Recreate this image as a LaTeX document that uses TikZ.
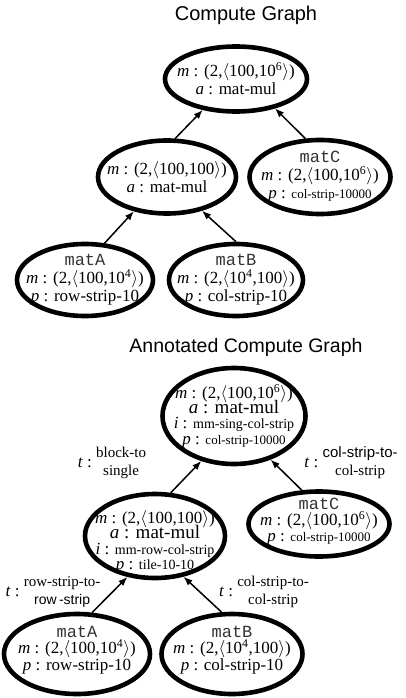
\documentclass[tikz,border=0pt]{standalone}
\usepackage{fontspec}
\setmainfont{Liberation Serif}
\setsansfont{Liberation Sans}
\setmonofont{Liberation Mono}
\usetikzlibrary{shapes.geometric,arrows.meta}

\setlength{\lineskiplimit}{-100pt}
\newcommand{\mshape}[1]{(2,$\langle$#1$\rangle$)}
\newcommand{\tinytxt}[1]{{\fontsize{13}{14}\selectfont #1}}
\newcommand{\smalltxt}[1]{{\fontsize{14}{15}\selectfont #1}}
\newcommand{\notefont}{\fontsize{15}{16}\selectfont}
\newcommand{\tpair}[2]{\textit{t} :\ {\lineskiplimit=0pt
  \begin{tabular}{@{}c@{}}#1\\#2\end{tabular}}}

\begin{document}
\begin{tikzpicture}[
    x=1pt, y=-1pt,
    every node/.style={font=\fontsize{17}{18}\selectfont},
    op/.style={draw, ellipse, line width=4.6pt, inner sep=0pt},
    txt/.style={align=center, font=\fontsize{17}{#1}\selectfont},
    txt/.default=18,
    title/.style={font=\sffamily\fontsize{20}{22}\selectfont},
    edge/.style={-{Latex[length=9pt,width=7pt]}, line width=1.5pt}
]
\useasboundingbox (0,0) rectangle (406,698);

% Compute graph
\node[title] (cg-title) at (246,15) {Compute Graph};

\node[op, minimum width=142pt, minimum height=65pt,
  label={[txt]center:{\textit{m} : \mshape{100,10\textsuperscript{6}}\\
  \textit{a} : mat-mul}}] (cg-out) at (236,79) {};
\node[op, minimum width=138pt, minimum height=73pt,
  label={[txt]center:{\textit{m} : \mshape{100,100}\\
  \textit{a} : mat-mul}}] (cg-ab) at (167,177) {};
\node[op, minimum width=141pt, minimum height=74pt,
  label={[txt]center:{{\ttfamily\color{black!80}matC}\\
  \textit{m} : \mshape{100,10\textsuperscript{6}}\\
  \textit{p} : \tinytxt{col-strip-10000}}}] (cg-c) at (320,177) {};
\node[op, minimum width=136pt, minimum height=72pt,
  label={[txt]center:{{\ttfamily\color{black!80}matA}\\
  \textit{m} : \mshape{100,10\textsuperscript{4}}\\
  \textit{p} : row-strip-10}}] (cg-a) at (85,280) {};
\node[op, minimum width=134pt, minimum height=72pt,
  label={[txt]center:{{\ttfamily\color{black!80}matB}\\
  \textit{m} : \mshape{10\textsuperscript{4},100}\\
  \textit{p} : col-strip-10}}] (cg-b) at (236,280) {};

\draw[edge] (cg-ab.78) -- (cg-out.223);
\draw[edge] (cg-c.111) -- (cg-out.323);
\draw[edge] (cg-a.62) -- (cg-ab.226);
\draw[edge] (cg-b.90) -- (cg-ab.316);

% Annotated compute graph
\node[title, font=\sffamily\fontsize{19.5}{22}\selectfont] (ag-title) at (246,347)
  {Annotated Compute Graph};

\node[op, minimum width=143pt, minimum height=96pt,
  label={[txt=15.3]center:{\textit{m} : \mshape{100,10\textsuperscript{6}}\\
  {\fontsize{19}{19}\selectfont\textit{a} : mat-mul}\\
  \textit{i} : \smalltxt{mm-sing-col-strip}\\
  \textit{p} : \tinytxt{col-strip-10000}}}] (ag-out) at (234,416) {};
\node[op, minimum width=140pt, minimum height=84pt,
  label={[txt=15.5, yshift=-6pt]center:{\textit{m} : \mshape{100,100}\\
  {\fontsize{19}{19}\selectfont\textit{a} : mat-mul}\\
  \textit{i} : \smalltxt{mm-row-col-strip}\\
  \textit{p} : \smalltxt{tile-10-10}}}] (ag-ab) at (155,536) {};
\node[op, minimum width=141pt, minimum height=65pt,
  label={[txt=16, yshift=2pt]center:{{\ttfamily\color{black!80}matC}\\
  \textit{m} : \mshape{100,10\textsuperscript{6}}\\
  \textit{p} : \tinytxt{col-strip-10000}}}] (ag-c) at (319,524) {};
\node[op, minimum width=146pt, minimum height=80pt,
  label={[txt=16.5, yshift=4pt]center:{{\ttfamily\color{black!80}matA}\\
  \textit{m} : \mshape{100,10\textsuperscript{4}}\\
  \textit{p} : row-strip-10}}] (ag-a) at (77,654) {};
\node[op, minimum width=141pt, minimum height=80pt,
  label={[txt=16.5, yshift=4pt]center:{{\ttfamily\color{black!80}matB}\\
  \textit{m} : \mshape{10\textsuperscript{4},100}\\
  \textit{p} : col-strip-10}}] (ag-b) at (232,654) {};

% Transforms
\node (t-out-ab) at (112,463)
  {\tpair{\notefont block-to}{\notefont single}};
\node (t-out-c) at (351,463)
  {\tpair{\sffamily\notefont col-strip-to-}{\notefont col-strip}};
\node (t-ab-a) at (53,592)
  {\tpair{\notefont row-strip-to-}{\sffamily\fontsize{14}{16}\selectfont row\,-strip}};
\node (t-ab-b) at (264,592)
  {\tpair{\notefont col-strip-to-}{\notefont col-strip}};

\draw[edge] (ag-ab.70) -- (ag-out.234);
\draw[edge] (ag-c.117) -- (ag-out.310);
\draw[edge] (ag-a.70) -- (ag-ab.236);
\draw[edge] (ag-b.104) -- (ag-ab.305);

\end{tikzpicture}
\end{document}
